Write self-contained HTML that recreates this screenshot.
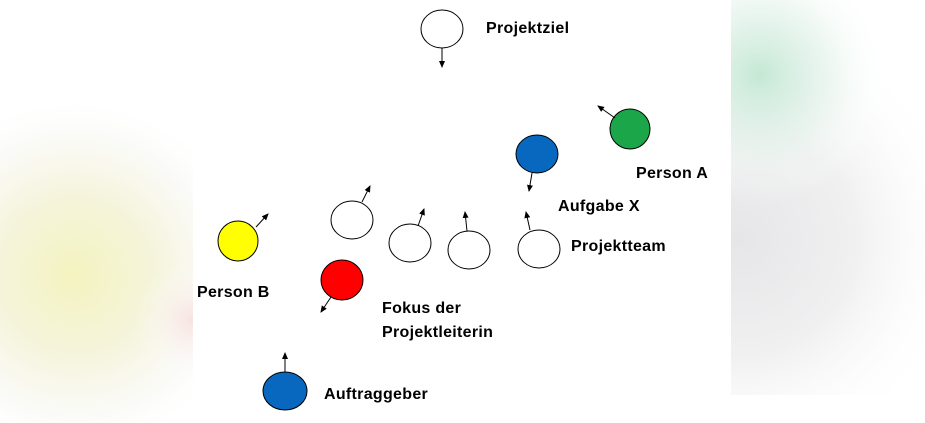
<!DOCTYPE html>
<html><head><meta charset="utf-8"><style>
html,body{margin:0;padding:0;background:#fff;}
svg{display:block}
text{font-family:"Liberation Sans",sans-serif;font-weight:bold;font-size:16px;letter-spacing:0.3px;fill:#000}
</style></head><body>
<svg width="925" height="423" viewBox="0 0 925 423" xmlns="http://www.w3.org/2000/svg">
<defs>
<radialGradient id="gy" cx="75" cy="275" r="180" gradientUnits="userSpaceOnUse">
<stop offset="0" stop-color="#f4f3c0"/><stop offset="0.45" stop-color="#f5f4dc"/><stop offset="0.8" stop-color="#f8f8f4" stop-opacity="0.6"/><stop offset="1" stop-color="#fff" stop-opacity="0"/></radialGradient>
<radialGradient id="gr" cx="193" cy="320" r="60" gradientUnits="userSpaceOnUse">
<stop offset="0" stop-color="#f6dcdd" stop-opacity="0.8"/><stop offset="1" stop-color="#fff" stop-opacity="0"/></radialGradient>
<radialGradient id="gg" cx="760" cy="75" r="130" gradientUnits="userSpaceOnUse">
<stop offset="0" stop-color="#c4e8d4"/><stop offset="0.5" stop-color="#e2f2e9" stop-opacity="0.7"/><stop offset="1" stop-color="#fff" stop-opacity="0"/></radialGradient>
<radialGradient id="gd" cx="740" cy="240" r="230" gradientUnits="userSpaceOnUse">
<stop offset="0" stop-color="#e6e6e8"/><stop offset="0.5" stop-color="#f0f0f1"/><stop offset="1" stop-color="#fff" stop-opacity="0"/></radialGradient>
<marker id="a" markerWidth="8" markerHeight="8" refX="6" refY="3" orient="auto" markerUnits="userSpaceOnUse"><path d="M0,0 L7,3 L0,6 z" fill="#000"/></marker>
</defs>
<rect x="0" y="0" width="193" height="423" fill="url(#gy)"/>
<rect x="0" y="0" width="193" height="423" fill="url(#gr)"/>
<rect x="731" y="0" width="194" height="395" fill="url(#gd)"/>
<rect x="731" y="0" width="194" height="395" fill="url(#gg)"/>
<g stroke="#000" stroke-width="1">
<ellipse cx="442" cy="29" rx="21" ry="19" fill="#fff"/>
<ellipse cx="630" cy="129" rx="20" ry="20" fill="#1ca64a"/>
<ellipse cx="537" cy="154" rx="21" ry="19" fill="#0868c0"/>
<ellipse cx="352" cy="220" rx="21" ry="19" fill="#fff"/>
<ellipse cx="410" cy="243" rx="21" ry="19" fill="#fff"/>
<ellipse cx="469" cy="250" rx="21" ry="19" fill="#fff"/>
<ellipse cx="539" cy="249" rx="21" ry="19" fill="#fff"/>
<ellipse cx="238" cy="241" rx="20" ry="20" fill="#ffff00"/>
<ellipse cx="342" cy="280" rx="21" ry="20" fill="#ff0000"/>
<ellipse cx="285" cy="391" rx="22" ry="19" fill="#0868c0"/>
<line x1="442" y1="48" x2="442" y2="67" marker-end="url(#a)"/>
<line x1="615" y1="118" x2="598" y2="106" marker-end="url(#a)"/>
<line x1="532" y1="173" x2="529" y2="191" marker-end="url(#a)"/>
<line x1="362" y1="202" x2="370" y2="186" marker-end="url(#a)"/>
<line x1="418" y1="226" x2="424" y2="209" marker-end="url(#a)"/>
<line x1="467" y1="231" x2="465" y2="212" marker-end="url(#a)"/>
<line x1="530" y1="230" x2="526" y2="212" marker-end="url(#a)"/>
<line x1="256" y1="227" x2="268" y2="214" marker-end="url(#a)"/>
<line x1="331" y1="297" x2="321" y2="312" marker-end="url(#a)"/>
<line x1="285" y1="372" x2="285" y2="353" marker-end="url(#a)"/>
</g>
<text x="486" y="33">Projektziel</text>
<text x="636" y="178">Person A</text>
<text x="558" y="211">Aufgabe X</text>
<text x="571" y="251">Projektteam</text>
<text x="197" y="297">Person B</text>
<text x="382" y="313">Fokus der</text>
<text x="382" y="337">Projektleiterin</text>
<text x="324" y="399">Auftraggeber</text>
</svg>
</body></html>
